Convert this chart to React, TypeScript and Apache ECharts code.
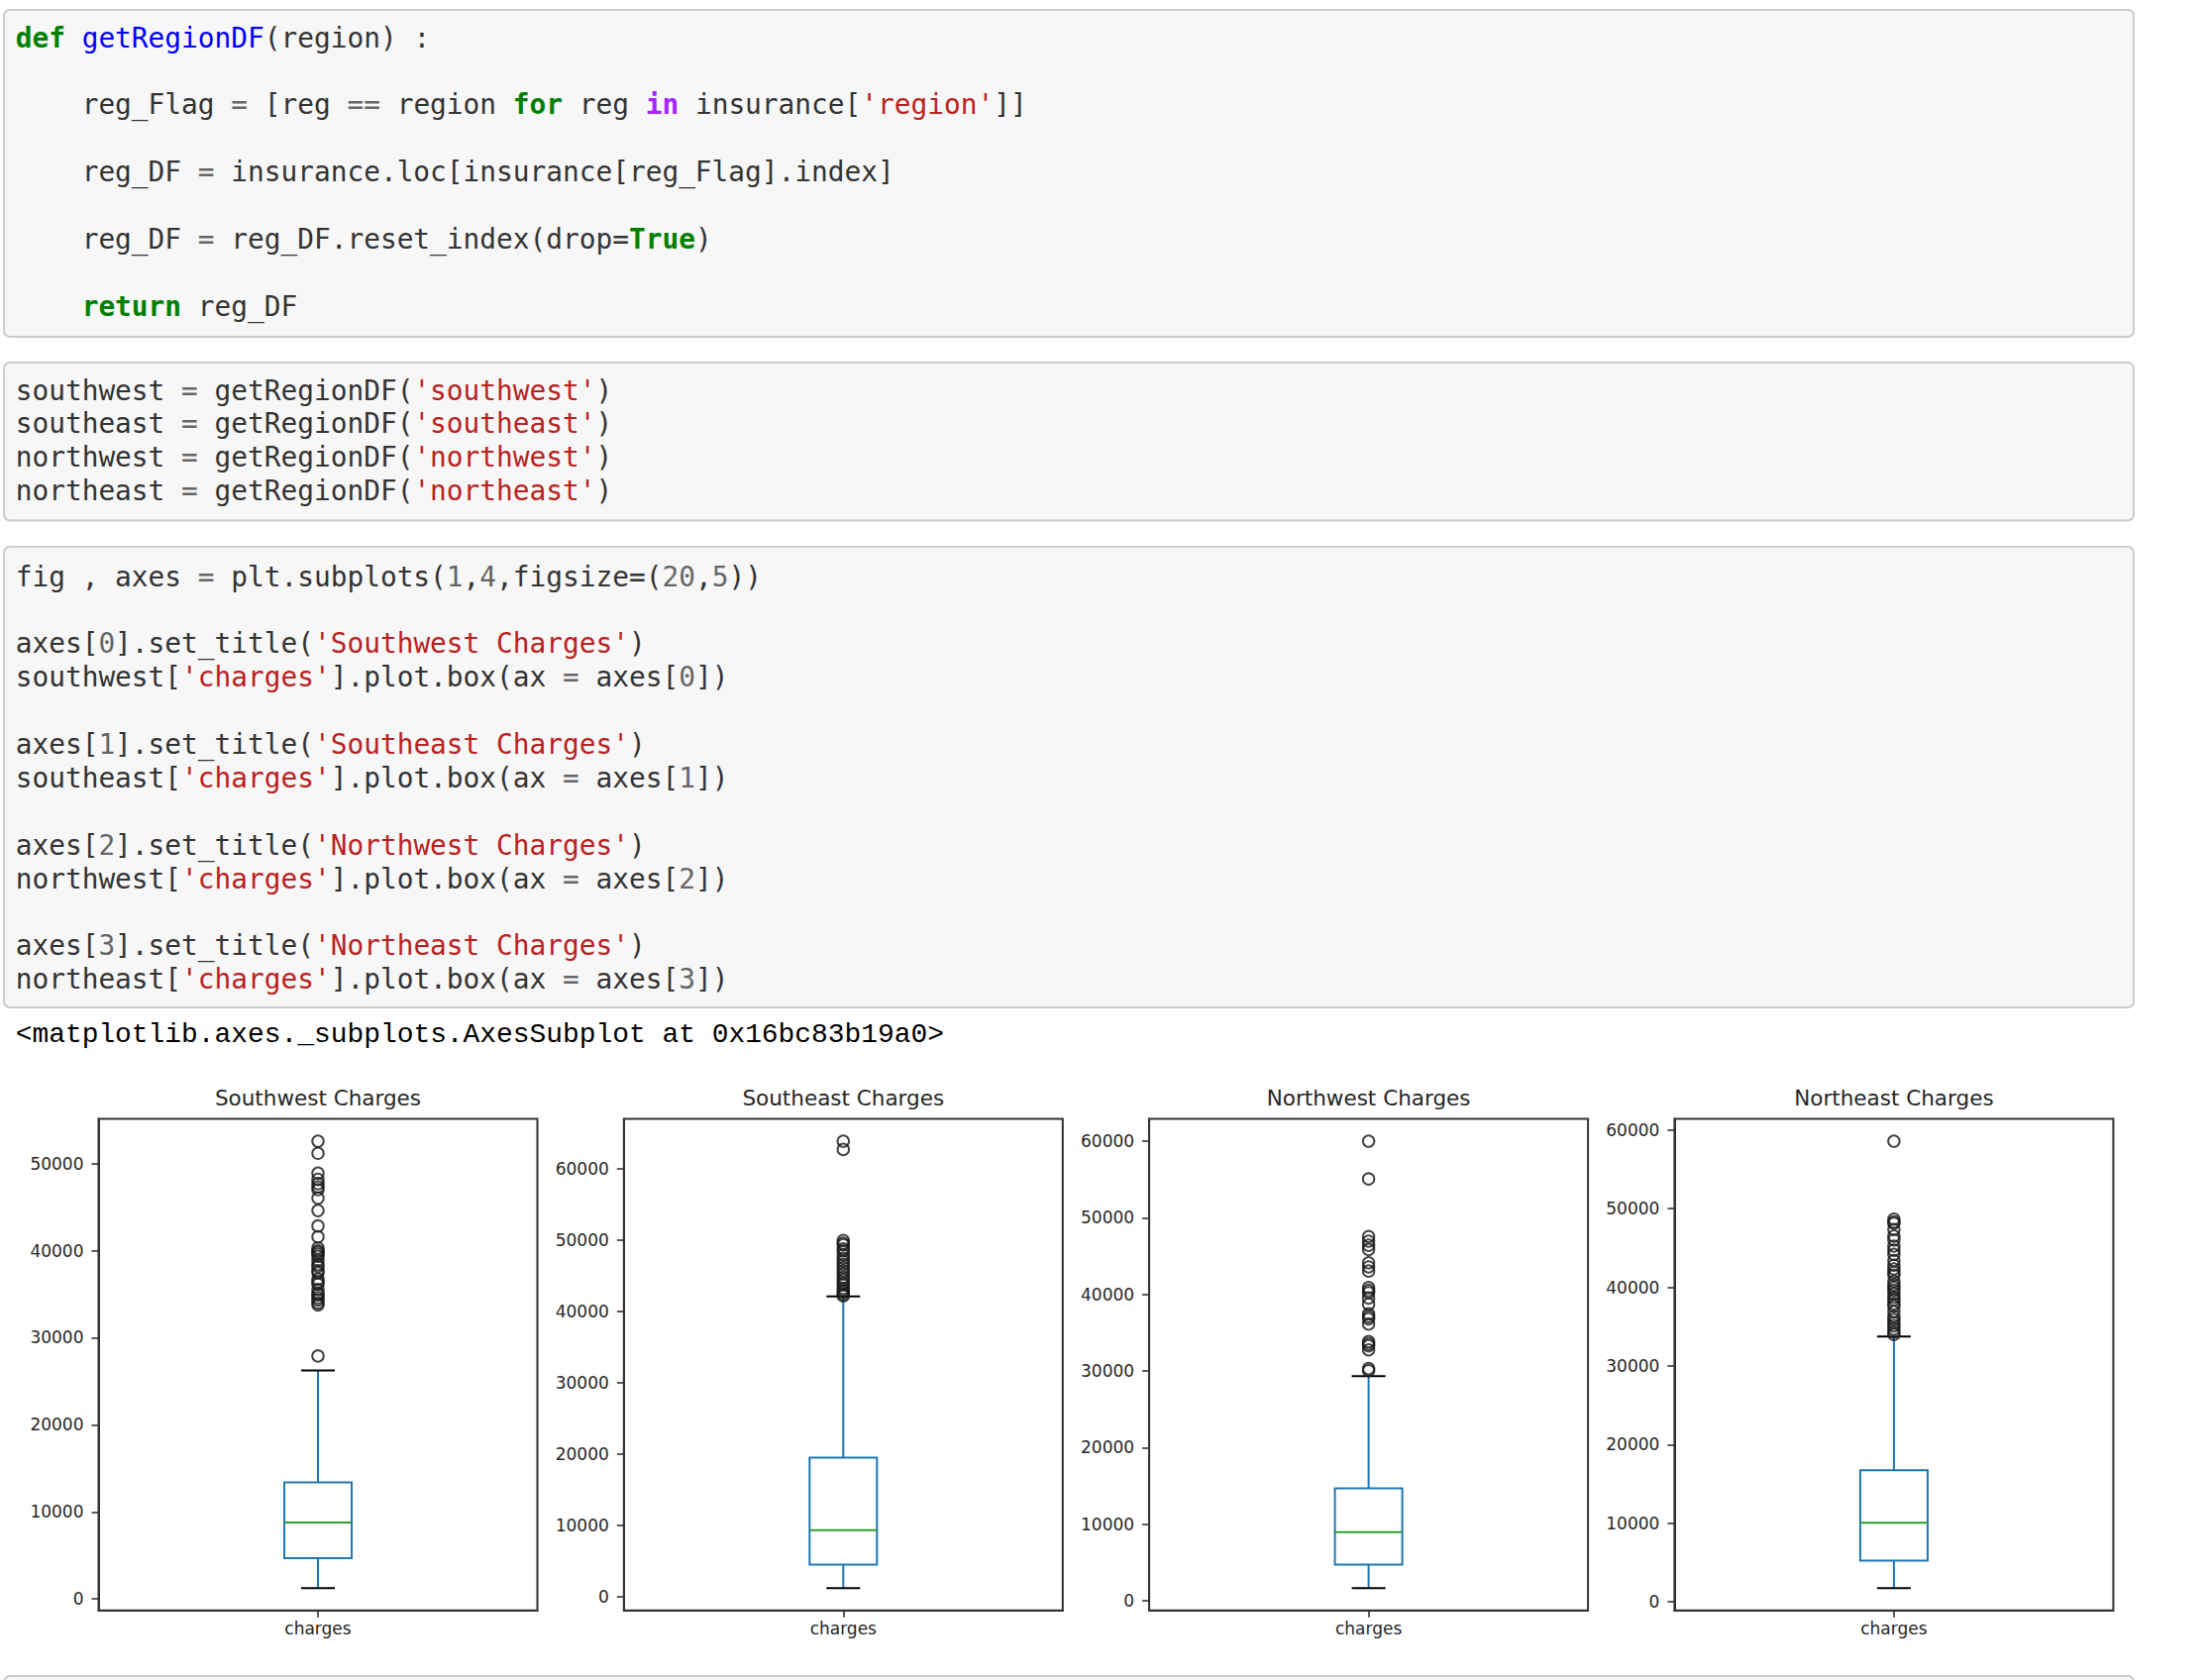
import React, { useEffect, useRef } from "react";
import * as echarts from "echarts";

// ---------- chart data ----------
const CATEGORY = ["charges"];
const TITLES = ["Southwest Charges", "Southeast Charges", "Northwest Charges", "Northeast Charges"];

// [lower whisker, Q1, median, Q3, upper whisker]
const SW_BOX = [1260, 4680, 8780, 13400, 26240];
const SE_BOX = [1200, 4480, 9320, 19500, 42100];
const NW_BOX = [1680, 4740, 8970, 14680, 29330];
const NE_BOX = [1760, 5230, 10060, 16720, 33730];

const SW_FLIERS = [52570, 51180, 48890, 48180, 47700, 47320, 47000, 46030, 44600, 42830, 41590, 40300, 39980, 39830, 39600, 39350, 38880, 38400, 38160, 37700, 37440, 36730, 36400, 36160, 35540, 35100, 34920, 34600, 34340, 34000, 33770, 27900];
const SE_FLIERS = [63890, 62730, 49950, 49580, 49370, 48790, 48500, 47920, 47460, 47040, 46600, 46170, 45700, 45300, 44800, 44430, 44000, 43730, 43250, 42980, 42700, 42400, 42200];
const NW_FLIERS = [60000, 55070, 47540, 46950, 46410, 45860, 44130, 43590, 43050, 40880, 40500, 40230, 39530, 38720, 37470, 37100, 36820, 36120, 33840, 33550, 33300, 32760, 30320, 30050];
const NE_FLIERS = [58570, 48660, 48300, 48130, 47340, 46500, 46020, 45230, 44700, 44180, 43390, 42800, 42330, 41900, 41540, 40750, 40300, 39960, 39600, 39170, 38710, 38380, 37900, 37590, 36900, 36270, 35900, 35480, 35100, 34690, 34300, 34000];

const SW_TICKS = [0, 10000, 20000, 30000, 40000, 50000];
const SE_TICKS = [0, 10000, 20000, 30000, 40000, 50000, 60000];
const NW_TICKS = [0, 10000, 20000, 30000, 40000, 50000, 60000];
const NE_TICKS = [0, 10000, 20000, 30000, 40000, 50000, 60000];

// ---------- notebook code text ----------
const CELL1_LINES = [
  "{k|def} {f|getRegionDF}(region) :",
  "",
  "    reg_Flag {o|=} [reg {o|==} region {k|for} reg {p|in} insurance[{s|'region'}]]",
  "",
  "    reg_DF {o|=} insurance.loc[insurance[reg_Flag].index]",
  "",
  "    reg_DF {o|=} reg_DF.reset_index(drop={k|True})",
  "",
  "    {k|return} reg_DF",
];
const CELL2_LINES = [
  "southwest {o|=} getRegionDF({s|'southwest'})",
  "southeast {o|=} getRegionDF({s|'southeast'})",
  "northwest {o|=} getRegionDF({s|'northwest'})",
  "northeast {o|=} getRegionDF({s|'northeast'})",
];
const CELL3_LINES = [
  "fig , axes {o|=} plt.subplots({n|1},{n|4},figsize=({n|20},{n|5}))",
  "",
  "axes[{n|0}].set_title({s|'Southwest Charges'})",
  "southwest[{s|'charges'}].plot.box(ax {o|=} axes[{n|0}])",
  "",
  "axes[{n|1}].set_title({s|'Southeast Charges'})",
  "southeast[{s|'charges'}].plot.box(ax {o|=} axes[{n|1}])",
  "",
  "axes[{n|2}].set_title({s|'Northwest Charges'})",
  "northwest[{s|'charges'}].plot.box(ax {o|=} axes[{n|2}])",
  "",
  "axes[{n|3}].set_title({s|'Northeast Charges'})",
  "northeast[{s|'charges'}].plot.box(ax {o|=} axes[{n|3}])",
];
const OUTPUT_LINE = "<matplotlib.axes._subplots.AxesSubplot at 0x16bc83b19a0>";

const BLUE = "#1f77b4";
const GREEN = "#2ca02c";
const AXIS_COLOR = "#333333";
const TEXT_COLOR = "#262626";

const CODE_FONT = "DejaVu Sans Mono";
const CODE_SIZE = 27.8;
const CHAR_W = CODE_SIZE * 0.60205;
const LINE_H = 33.9;

const TOKEN_STYLE: Record<string, { fill: string; bold: boolean }> = {
  d: { fill: "#333333", bold: false },
  k: { fill: "#008000", bold: true },
  f: { fill: "#0000ff", bold: false },
  p: { fill: "#aa22ff", bold: true },
  s: { fill: "#ba2121", bold: false },
  o: { fill: "#666666", bold: false },
  n: { fill: "#666666", bold: false },
};

function codeLineElements(line: string, x0: number, yMid: number): any[] {
  const out: any[] = [];
  const re = /\{(\w)\|([^}]*)\}|([^{]+)/g;
  let m: RegExpExecArray | null;
  let col = 0;
  while ((m = re.exec(line)) !== null) {
    const key = m[1] ? m[1] : "d";
    const txt = m[1] ? m[2] : m[3];
    const st = TOKEN_STYLE[key];
    let word = "";
    let wordCol = col;
    const flush = () => {
      if (word.length) {
        out.push({
          type: "text",
          x: x0 + wordCol * CHAR_W,
          y: yMid,
          silent: true,
          style: {
            text: word,
            fill: st.fill,
            fontFamily: CODE_FONT,
            fontSize: CODE_SIZE,
            fontWeight: st.bold ? "bold" : "normal",
            verticalAlign: "middle",
            textVerticalAlign: "middle",
            align: "left",
          },
        });
      }
      word = "";
    };
    for (const ch of txt) {
      if (ch === " ") {
        flush();
        col += 1;
        wordCol = col;
      } else {
        if (!word.length) wordCol = col;
        word += ch;
        col += 1;
      }
    }
    flush();
  }
  return out;
}

function cellRect(x: number, y: number, w: number, h: number) {
  return {
    type: "rect",
    silent: true,
    shape: { x, y, width: w, height: h, r: 6 },
    style: { fill: "#f7f7f7", stroke: "#cbcbcb", lineWidth: 2 },
  };
}

export default function App() {
  const ref = useRef<HTMLDivElement>(null);

  useEffect(() => {
    if (!ref.current) return;
    const chart = echarts.init(ref.current, undefined, { renderer: "svg" });

    const regions = [
      { title: TITLES[0], box: SW_BOX, fliers: SW_FLIERS, ticks: SW_TICKS },
      { title: TITLES[1], box: SE_BOX, fliers: SE_FLIERS, ticks: SE_TICKS },
      { title: TITLES[2], box: NW_BOX, fliers: NW_FLIERS, ticks: NW_TICKS },
      { title: TITLES[3], box: NE_BOX, fliers: NE_FLIERS, ticks: NE_TICKS },
    ];

    const GRID_LEFT0 = 99.5;
    const GRID_STEP = 530.3;
    const GRID_W = 443;
    const GRID_TOP = 1129.5;
    const GRID_H = 496.2;

    const grids: any[] = [];
    const xAxes: any[] = [];
    const yAxes: any[] = [];
    const series: any[] = [];
    const graphics: any[] = [];

    // code cells
    graphics.push(cellRect(4, 10, 2150, 330));
    graphics.push(cellRect(4, 366, 2150, 159.5));
    graphics.push(cellRect(4, 552, 2150, 465));
    graphics.push(cellRect(4, 1692, 2150, 60));

    CELL1_LINES.forEach((l, i) => graphics.push(...codeLineElements(l, 15.7, 38 + i * LINE_H)));
    CELL2_LINES.forEach((l, i) => graphics.push(...codeLineElements(l, 15.7, 394 + i * LINE_H)));
    CELL3_LINES.forEach((l, i) => graphics.push(...codeLineElements(l, 15.7, 582 + i * LINE_H)));
    graphics.push({
      type: "text",
      x: 15.7,
      y: 1044,
      silent: true,
      style: {
        text: OUTPUT_LINE,
        fill: "#000000",
        fontFamily: "Liberation Mono",
        fontSize: 27.9,
        verticalAlign: "middle",
        textVerticalAlign: "middle",
      },
    });

    regions.forEach((r, i) => {
      const left = GRID_LEFT0 + i * GRID_STEP;
      const all = [...r.box, ...r.fliers];
      const lo = Math.min(...all);
      const hi = Math.max(...all);
      const pad = (hi - lo) * 0.05;

      grids.push({
        left,
        top: GRID_TOP,
        width: GRID_W,
        height: GRID_H,
        show: true,
        borderColor: AXIS_COLOR,
        borderWidth: 2,
        backgroundColor: "transparent",
        containLabel: false,
        outerBoundsMode: "none",
      });

      xAxes.push({
        type: "category",
        gridIndex: i,
        position: "bottom",
        data: CATEGORY,
        axisLine: { show: true, onZero: false, lineStyle: { color: AXIS_COLOR, width: 2 } },
        axisTick: { show: true, alignWithLabel: true, length: 7, lineStyle: { color: AXIS_COLOR, width: 1.6 } },
        axisLabel: { fontFamily: "DejaVu Sans", fontSize: 17, color: TEXT_COLOR, margin: 10 },
        splitLine: { show: false },
      });

      yAxes.push({
        type: "value",
        gridIndex: i,
        position: "left",
        min: lo - pad,
        max: hi + pad,
        splitLine: { show: false },
        axisLine: { show: true, onZero: false, lineStyle: { color: AXIS_COLOR, width: 2 } },
        axisTick: { show: true, length: 7, lineStyle: { color: AXIS_COLOR, width: 1.6 }, customValues: r.ticks },
        axisLabel: {
          customValues: r.ticks,
          formatter: (v: number) => String(v),
          fontFamily: "DejaVu Sans",
          fontSize: 17,
          color: TEXT_COLOR,
          margin: 15,
          showMinLabel: true,
          showMaxLabel: true,
        },
      });

      series.push({
        type: "custom",
        xAxisIndex: i,
        yAxisIndex: i,
        silent: true,
        data: [[0, ...r.box]],
        encode: { x: 0, y: [1, 2, 3, 4, 5] },
        renderItem: (_params: any, api: any) => {
          const c = api.value(0);
          const cx = api.coord([c, api.value(3)])[0];
          const yv = (d: number) => api.coord([c, api.value(d)])[1];
          const yLo = yv(1), yQ1 = yv(2), yMed = yv(3), yQ3 = yv(4), yHi = yv(5);
          const hw = 34;
          const cw = 17;
          return {
            type: "group",
            children: [
              { type: "line", shape: { x1: cx, y1: yQ1, x2: cx, y2: yLo }, style: { stroke: BLUE, lineWidth: 2 } },
              { type: "line", shape: { x1: cx, y1: yQ3, x2: cx, y2: yHi }, style: { stroke: BLUE, lineWidth: 2 } },
              { type: "line", shape: { x1: cx - cw, y1: yLo, x2: cx + cw, y2: yLo }, style: { stroke: "#000", lineWidth: 2 } },
              { type: "line", shape: { x1: cx - cw, y1: yHi, x2: cx + cw, y2: yHi }, style: { stroke: "#000", lineWidth: 2 } },
              { type: "rect", shape: { x: cx - hw, y: yQ3, width: 2 * hw, height: yQ1 - yQ3 }, style: { fill: "none", stroke: BLUE, lineWidth: 2 } },
              { type: "line", shape: { x1: cx - hw, y1: yMed, x2: cx + hw, y2: yMed }, style: { stroke: GREEN, lineWidth: 2 } },
            ],
          };
        },
        z: 2,
      });

      series.push({
        type: "scatter",
        xAxisIndex: i,
        yAxisIndex: i,
        silent: true,
        data: r.fliers.map((v) => [0, v]),
        symbol: "circle",
        symbolSize: 11.5,
        itemStyle: { color: "rgba(0,0,0,0)", borderColor: "#1a1a1a", borderWidth: 2 },
        z: 3,
      });

      graphics.push({
        type: "text",
        x: left + GRID_W / 2,
        y: 1108,
        silent: true,
        style: {
          text: r.title,
          fill: TEXT_COLOR,
          fontFamily: "DejaVu Sans",
          fontSize: 21.5,
          align: "center",
          textAlign: "center",
          verticalAlign: "middle",
          textVerticalAlign: "middle",
        },
      });
    });

    chart.setOption({
      animation: false,
      backgroundColor: "#ffffff",
      grid: grids,
      xAxis: xAxes,
      yAxis: yAxes,
      series,
      graphic: { elements: graphics },
    });

    return () => chart.dispose();
  }, []);

  return (
    <div
      ref={ref}
      style={{ position: "absolute", left: 0, top: 0, width: 2232, height: 1696 }}
    />
  );
}
